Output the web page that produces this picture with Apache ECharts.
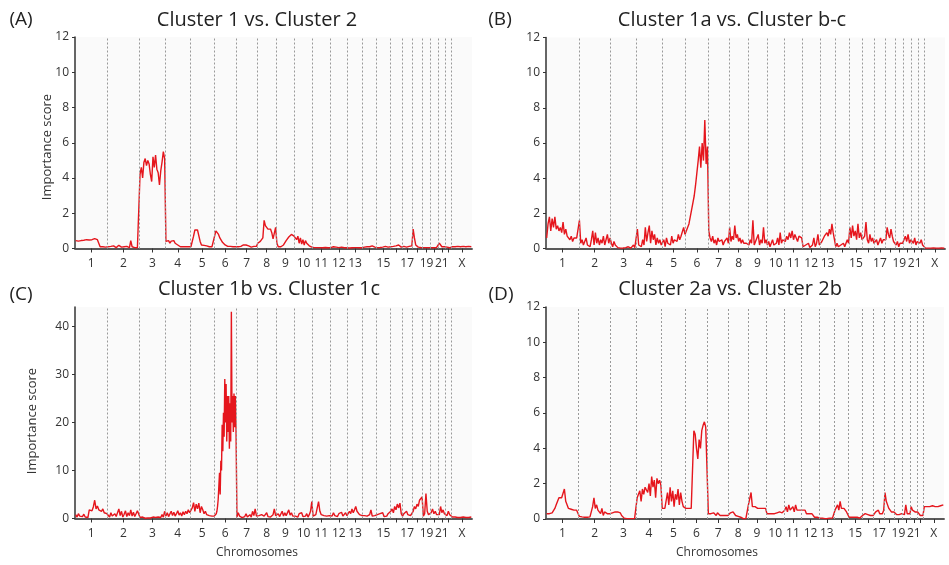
<!DOCTYPE html>
<html><head><meta charset="utf-8">
<script src="https://cdn.jsdelivr.net/npm/echarts@6/dist/echarts.min.js"></script>
<style>html,body{margin:0;padding:0;background:#fff}#c{width:949px;height:565px}</style>
</head><body><div id="c"></div>
<script>
// ---------- data ----------
const chromNames = ['1','2','3','4','5','6','7','8','9','10','11','12','13','14','15','16','17','18','19','20','21','22','X'];
const chromLengths = [249.25,243.20,198.02,191.15,180.92,171.12,159.14,146.36,141.21,135.53,135.01,133.85,115.17,107.35,102.53,90.35,81.20,78.08,59.13,63.03,48.13,51.30,155.27];
const tickLabels = ['1','2','3','4','5','6','7','8','9','10','11','12','13','15','17','19','21','X'];
const panelTitles = ['Cluster 1 vs. Cluster 2','Cluster 1a vs. Cluster b-c','Cluster 1b vs. Cluster 1c','Cluster 2a vs. Cluster 2b'];
const panelLetters = ['(A)','(B)','(C)','(D)'];
const yAxisMax = [12,12,44,12];
const yAxisStep = [2,2,10,2];

const scoresA = [
 [0.45,0.5,0.42,0.48,0.45,0.5,0.47,0.44,0.5,0.52,0.48,0.55,0.5,0.53,0.56,0.55,0.5,0.3,0.1,0.08,0.1,0.12,0.08,0.1],
 [0.1,0.05,0.12,0.08,0.15,0.1,0.05,0.12,0.18,0.1,0.08,0.15,0.1,0.2,0.12,0.1,0.05,0.45,0.1,0.08,0.05,0.06,0.04,0.05],
 [4.2,4.6,4.0,4.9,5.1,4.7,5.0,4.8,4.2,3.8,5.2,4.6,5.3,4.5,4.3,3.6,4.4,4.9,5.5,5.1],
 [0.4,0.35,0.45,0.3,0.42,0.38,0.45,0.3,0.35,0.2,0.12,0.1,0.08,0.1,0.12,0.1,0.08,0.1,0.1],
 [0.1,0.15,0.7,1.05,1.0,1.05,1.0,0.4,0.2,0.22,0.18,0.2,0.15,0.1,0.1,0.08,0.1,0.12],
 [0.7,1.0,0.9,0.8,0.6,0.5,0.35,0.25,0.2,0.15,0.12,0.1,0.12,0.1,0.1,0.12,0.1],
 [0.12,0.1,0.15,0.12,0.1,0.2,0.25,0.2,0.3,0.15,0.1,0.08,0.1,0.12,0.1,0.12],
 [0.3,0.35,0.4,0.38,0.6,1.6,1.3,1.2,1.1,1.0,1.1,0.9,0.55,0.5,1.2],
 [0.3,0.1,0.08,0.1,0.15,0.2,0.3,0.45,0.55,0.65,0.75,0.8,0.75,0.7],
 [0.75,0.5,0.7,0.3,0.6,0.25,0.5,0.2,0.45,0.3,0.4,0.15,0.1,0.08],
 [0.08,0.05,0.06,0.05,0.04,0.05,0.06,0.04,0.05,0.06,0.05,0.04,0.06],
 [0.05,0.08,0.1,0.06,0.08,0.1,0.05,0.06,0.08,0.05,0.04,0.06,0.05],
 [0.04,0.03,0.05,0.04,0.03,0.05,0.04,0.05,0.06,0.04,0.05,0.04],
 [0.05,0.08,0.06,0.1,0.12,0.1,0.2,0.15,0.1,0.08,0.05],
 [0.05,0.08,0.06,0.1,0.08,0.1,0.12,0.1,0.08,0.1],
 [0.1,0.15,0.12,0.18,0.15,0.1,0.2,0.12,0.08],
 [0.1,0.12,0.1,0.08,0.1,0.12,0.1,0.15],
 [1.1,0.6,0.2,0.1,0.08,0.1,0.06,0.05],
 [0.05,0.06,0.05,0.04,0.05,0.06],
 [0.05,0.06,0.04,0.05,0.06,0.08],
 [0.3,0.2,0.1,0.08,0.1],
 [0.15,0.08,0.05,0.04,0.05],
 [0.1,0.12,0.1,0.1,0.12,0.1,0.1,0.1,0.12,0.1,0.1,0.1,0.12,0.1,0.1]
];
const scoresB = [
 [0.6,1.4,1.8,1.0,1.7,1.2,1.8,1.1,1.3,1.0,1.2,0.9,1.5,0.8,1.1,0.7,0.6,0.5,0.7,0.4,0.6,0.5,0.6,0.5],
 [1.6,0.3,0.5,0.2,0.4,0.6,0.2,0.3,0.1,0.5,1.0,0.2,0.9,0.3,0.6,0.2,0.5,0.3,0.7,0.2,0.5,0.8,0.3,0.6],
 [0.3,0.1,0.4,0.2,0.1,0.05,0.1,0.02,0.05,0.03,0.02,0.05,0.03,0.1,0.05,0.02,0.1,0.2,0.05,0.1],
 [1.1,0.2,0.3,0.1,0.5,0.2,1.2,0.4,0.9,1.3,0.3,1.0,0.5,0.8,0.2,0.6,0.3,0.5,0.2],
 [0.3,0.5,0.1,0.6,0.3,0.4,0.2,0.7,0.3,0.5,0.6,0.4,0.8,0.5,0.7,0.6,1.2,0.8],
 [0.9,1.2,1.4,1.8,2.2,2.6,3.0,3.6,4.3,5.0,5.8,4.6,6.0,5.0,7.3,4.8,5.8],
 [1.0,0.6,0.4,0.7,0.3,0.5,0.2,0.6,0.4,0.3,0.5,0.2,0.4,0.3,0.6,0.3],
 [1.2,0.4,0.7,0.5,1.3,0.6,0.8,0.4,0.6,0.3,0.5,0.3,0.4,0.3,0.3],
 [0.2,0.5,0.3,1.6,0.2,0.4,0.3,0.8,0.2,0.5,0.3,1.2,0.3,0.5],
 [0.2,0.4,0.1,0.3,0.5,0.2,0.1,0.3,0.6,0.2,0.9,0.3,0.5,0.4],
 [0.4,0.7,0.5,0.9,0.6,1.0,0.5,0.8,0.6,0.4,0.7,0.8,0.6],
 [0.1,0.05,0.2,0.1,0.3,0.05,0.1,0.2,0.6,0.1,0.3,0.8,0.2],
 [0.2,0.4,0.3,0.7,0.6,0.9,0.7,1.1,0.8,1.4,0.9,0.5],
 [0.1,0.3,0.1,0.05,0.2,0.1,0.3,0.1,0.2,0.5,0.3],
 [1.2,0.6,1.3,0.7,1.0,0.5,1.4,0.6,0.9,0.5],
 [0.4,0.7,1.5,0.5,0.3,0.8,0.4,0.6,0.3],
 [0.3,0.5,0.2,0.4,0.6,0.3,0.5,0.4],
 [0.5,1.2,0.8,0.6,1.1,0.7,0.4,0.3],
 [0.2,0.4,0.1,0.3,0.2,0.3],
 [0.3,0.7,0.4,0.8,0.3,0.5],
 [0.5,0.3,0.6,0.2,0.4],
 [0.4,0.3,0.5,0.2,0.3],
 [0.03,0.02,0.02,0.03,0.02,0.02,0.03,0.02,0.02,0.03,0.02,0.02,0.03,0.02,0.02]
];
const scoresC = [
 [0.8,0.3,1.0,0.5,0.2,0.4,0.9,0.3,0.5,0.2,1.8,2.2,1.6,2.4,3.8,2.0,2.6,1.8,2.2,1.5,2.0,1.2,1.6,1.0],
 [0.8,0.3,1.2,0.5,0.2,1.0,0.4,0.8,2.0,0.6,1.5,0.3,0.9,1.6,0.4,1.2,0.6,1.8,0.5,1.3,0.4,1.0,1.6,2.0],
 [0.2,0.1,0.3,0.1,0.05,0.2,0.1,0.05,0.1,0.2,0.3,0.1,0.2,0.1,0.3,0.5,0.2,0.8,0.3,1.5],
 [0.5,1.2,0.4,0.8,1.5,0.6,1.3,0.5,1.0,1.6,0.7,1.2,0.5,1.4,0.8,1.5,1.0,1.8,1.2],
 [1.0,2.2,3.3,1.5,3.0,2.0,3.2,1.2,2.5,1.8,1.0,1.5,0.8,1.2,0.6,1.0,0.5,0.8],
 [0.5,0.6,0.8,1.0,1.5,2.5,4.0,4.2,9.5,5.0,12.0,10.0,19.5,14.0,22.0,17.0,29.0,20.0,28.0,16.0,25.5,18.0,25.5,14.5,24.0,16.0,43.0,20.0,25.5,18.0,26.0,19.0,25.5,19.0],
 [0.3,1.2,0.5,0.8,0.2,0.6,0.4,1.0,0.3,0.5,0.8,0.3,1.5,0.6,2.0,0.5],
 [0.3,0.6,0.2,0.8,0.4,0.5,0.3,1.2,0.4,0.6,0.3,0.5,0.8,2.0,0.6],
 [0.5,1.0,0.4,0.8,1.5,0.5,1.2,0.6,1.0,1.8,0.7,1.2,0.5,0.8],
 [0.5,0.8,0.3,1.0,0.6,1.2,0.4,0.7,0.5,1.0,0.3,0.8,1.5,3.5],
 [0.5,0.3,0.8,1.0,3.5,1.5,0.8,1.2,0.6,1.0,0.5,0.8,0.6],
 [0.8,0.5,1.2,0.6,0.9,0.4,1.0,0.7,1.3,0.5,0.8,1.2,0.6],
 [0.8,1.5,1.0,2.0,1.2,1.8,2.5,1.5,1.2,0.8,1.0,0.6],
 [0.3,0.6,0.2,0.5,0.3,0.8,1.8,0.5,0.3,0.6,0.4],
 [0.8,0.5,1.0,0.6,1.2,0.4,0.8,0.5,1.0,0.6],
 [1.5,2.0,1.2,2.5,1.8,3.0,2.2,3.2,1.0],
 [0.5,1.0,0.6,1.5,0.8,1.2,0.6,1.0],
 [1.5,2.5,2.0,3.0,2.5,3.8,3.5,4.5],
 [0.5,1.0,5.2,1.5,0.8,1.2],
 [1.2,2.0,1.0,1.5,0.8,1.2],
 [0.8,2.5,1.2,1.8,1.0],
 [1.2,0.6,1.5,0.8,0.5],
 [0.3,0.2,0.3,0.2,0.2,0.3,0.2,0.2,0.3,0.2,0.2,0.3,0.2,0.2,0.3]
];
const scoresD = [
 [0.3,0.35,0.3,0.4,0.35,0.45,0.6,0.8,0.75,1.2,1.3,1.2,1.3,1.7,1.0,0.9,0.6,0.5,0.55,0.5,0.5,0.45,0.5,0.45],
 [0.15,0.1,0.12,0.1,0.1,0.12,0.1,0.1,0.12,0.1,0.7,1.2,0.6,0.8,0.5,0.5,0.3,0.6,0.2,0.4,0.5,0.3,0.4,0.3],
 [0.4,0.35,0.4,0.4,0.3,0.4,0.4,0.35,0.2,0.15,0.05,0.02,0.02,0.02,0.02,0.02,0.02,0.03,0.02,0.02],
 [1.2,1.3,1.6,1.0,1.7,1.4,1.8,1.9,1.5,2.0,1.3,2.4,1.8,2.2,1.2,2.3,2.0,2.2,1.9],
 [0.6,0.55,0.6,0.55,1.5,0.8,1.8,1.0,1.6,0.7,1.4,1.1,1.7,0.8,1.5,1.0,0.7,0.6],
 [0.6,0.55,0.6,0.65,0.6,0.7,5.0,4.8,4.0,3.4,4.5,4.0,5.0,5.3,5.5,5.2,5.3],
 [0.3,0.35,0.3,0.25,0.35,0.3,0.2,0.35,0.3,0.2,0.25,0.2,0.15,0.2,0.15,0.2],
 [0.3,0.35,0.3,0.4,0.3,0.2,0.1,0.15,0.05,0.1,0.05,0.02,0.05,0.02,0.03],
 [0.8,0.7,1.5,0.7,0.6,0.7,0.65,0.6,0.7,0.6,0.65,0.6,0.55,0.6],
 [0.3,0.35,0.3,0.4,0.3,0.35,0.3,0.4,0.35,0.3,0.4,0.3,0.35,0.4],
 [0.5,0.7,0.4,0.8,0.5,0.6,0.7,0.4,0.8,0.5,0.6,0.5,0.4],
 [0.5,0.4,0.5,0.3,0.4,0.3,0.2,0.3,0.2,0.1,0.15,0.1,0.05],
 [0.05,0.03,0.05,0.03,0.02,0.05,0.03,0.02,0.05,0.03,0.05,0.1],
 [0.5,0.6,0.8,0.5,1.0,0.6,0.5,0.6,0.5,0.4,0.3],
 [0.1,0.05,0.1,0.08,0.1,0.05,0.1,0.08,0.05,0.1],
 [0.2,0.25,0.3,0.2,0.25,0.3,0.2,0.25,0.2],
 [0.3,0.4,0.3,0.5,0.3,0.4,0.3,0.5],
 [1.5,1.0,0.8,0.6,0.5,0.4,0.5,0.4],
 [0.3,0.25,0.3,0.25,0.3,0.3],
 [0.3,0.25,0.8,0.3,0.35,0.3],
 [0.7,0.5,0.6,0.4,0.45],
 [0.4,0.3,0.2,0.1,0.2],
 [0.7,0.65,0.7,0.75,0.7,0.7,0.75,0.7,0.7,0.75,0.7,0.75,0.75,0.7,0.8]
];
const panelScores = [scoresA, scoresB, scoresC, scoresD];

// ---------- layout (pixels) ----------
const layout = [
 {left:75, top:37, width:397, height:211.5, titleX:257, titleY:20, letterX:21, letterY:20},
 {left:546, top:37.5, width:399, height:211, titleX:732, titleY:20, letterX:500, letterY:20},
 {left:75, top:307, width:397, height:211.5, titleX:269, titleY:289, letterX:21, letterY:295},
 {left:546, top:307, width:398, height:212, titleX:730, titleY:289, letterX:501, letterY:295}
];
const FONT = '"Open Sans", "DejaVu Sans", sans-serif';
const RED = '#e5161d';

// ---------- derived ----------
const starts = [];
let acc = 0;
chromLengths.forEach(l => { starts.push(acc); acc += l; });
const TOTAL = acc;
const centers = chromLengths.map((l, i) => starts[i] + l / 2);
const boundaries = starts.slice(1);
const labelCenters = tickLabels.map(n => centers[chromNames.indexOf(n)]);

function buildPoints(scores) {
  const pts = [];
  scores.forEach((arr, c) => {
    const n = arr.length, len = chromLengths[c];
    arr.forEach((v, j) => pts.push([starts[c] + (j + 0.5) * len / n, v]));
  });
  return pts;
}
function labelFor(v) {
  let best = 0, bd = Infinity;
  labelCenters.forEach((c, i) => { const d = Math.abs(c - v); if (d < bd) { bd = d; best = i; } });
  return bd < 1 ? tickLabels[best] : '';
}

const grid = [], xAxis = [], yAxis = [], series = [], graphic = [];
layout.forEach((L, p) => {
  grid.push({left: L.left, top: L.top, width: L.width, height: L.height, show: true,
    backgroundColor: '#fafafa', borderWidth: 0, containLabel: false});
  xAxis.push({type: 'value', gridIndex: p, min: 0, max: TOTAL, position: 'bottom',
    axisLine: {show: true, onZero: false, lineStyle: {color: '#333', width: 1.5}},
    axisTick: {show: true, customValues: centers, length: 4, inside: false, lineStyle: {color: '#333', width: 1}},
    axisLabel: {show: true, customValues: labelCenters, formatter: labelFor, margin: 9,
      fontFamily: FONT, fontSize: 12, color: '#333'},
    splitLine: {show: false}});
  xAxis.push({type: 'value', gridIndex: p, min: 0, max: 1, position: 'top',
    axisLine: {show: true, lineStyle: {color: '#555', width: 1.5}},
    axisTick: {show: false}, axisLabel: {show: false}, splitLine: {show: false}});
  yAxis.push({type: 'value', gridIndex: p, min: 0, max: yAxisMax[p], interval: yAxisStep[p],
    axisLine: {show: true, lineStyle: {color: '#333', width: 1.5}},
    axisTick: {show: true, length: 3, lineStyle: {color: '#333'}},
    axisLabel: {fontFamily: FONT, fontSize: 12, color: '#333', margin: 6, showMaxLabel: yAxisMax[p] % yAxisStep[p] === 0},
    splitLine: {show: false}});
  series.push({type: 'line', xAxisIndex: p * 2, yAxisIndex: p, data: buildPoints(panelScores[p]),
    showSymbol: false, symbol: 'none', sampling: null, animation: false, silent: true,
    lineStyle: {color: RED, width: 1.4}, z: 3,
    markLine: {silent: true, symbol: ['none', 'none'], animation: false, label: {show: false},
      lineStyle: {color: '#999', type: [2, 2], width: 1},
      data: boundaries.map(b => ({xAxis: b}))}});
  graphic.push({type: 'text', x: L.titleX, y: L.titleY, style: {text: panelTitles[p], fontFamily: FONT,
    fontSize: 20, fill: '#222', align: 'center', verticalAlign: 'middle'}});
  graphic.push({type: 'text', x: L.letterX, y: L.letterY, style: {text: panelLetters[p], fontFamily: FONT,
    fontSize: 19, fill: '#222', align: 'center', verticalAlign: 'middle'}});
});
// axis names
graphic.push({type: 'text', x: 47, y: 147, rotation: Math.PI / 2, style: {text: 'Importance score', fontFamily: FONT, fontSize: 13, fill: '#333', align: 'center', verticalAlign: 'middle'}});
graphic.push({type: 'text', x: 32, y: 421, rotation: Math.PI / 2, style: {text: 'Importance score', fontFamily: FONT, fontSize: 13, fill: '#333', align: 'center', verticalAlign: 'middle'}});
graphic.push({type: 'text', x: 257, y: 553, style: {text: 'Chromosomes', fontFamily: FONT, fontSize: 12, fill: '#333', align: 'center', verticalAlign: 'middle'}});
graphic.push({type: 'text', x: 717, y: 553, style: {text: 'Chromosomes', fontFamily: FONT, fontSize: 12, fill: '#333', align: 'center', verticalAlign: 'middle'}});

const chart = echarts.init(document.getElementById('c'), null, {renderer: 'canvas'});
chart.setOption({animation: false, backgroundColor: '#fff', grid, xAxis, yAxis, series, graphic});
</script></body></html>
